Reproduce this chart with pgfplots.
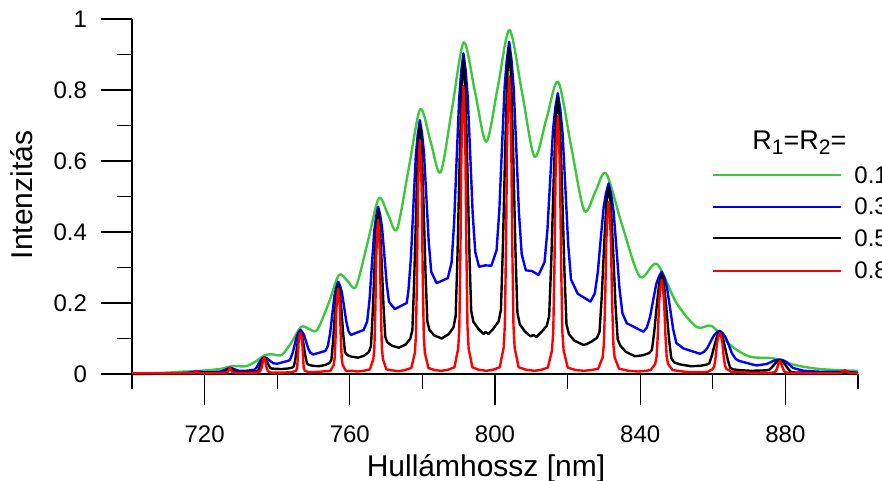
\documentclass[border=0pt]{standalone}
\usepackage{fontspec}
\setmainfont{Liberation Sans}
\usepackage{pgfplots}
\pgfplotsset{compat=1.18}
\definecolor{cgreen}{RGB}{60,200,60}
\begin{document}
\begin{tikzpicture}
\begin{axis}[
  at={(0,0)}, anchor=south west,
  scale only axis, width=363pt, height=177.5pt,
  xmin=700, xmax=900, ymin=0, ymax=1,
  axis x line*=bottom, axis y line*=left,
  axis line style={-, line width=0.6pt},
  xtick={720,760,800,840,880}, minor xtick={700,740,780,820,860,900},
  ytick={0,0.2,0.4,0.6,0.8,1}, minor ytick={0.1,0.3,0.5,0.7,0.9},
  tick align=outside, major tick length=15.5pt, minor tick length=7.7pt,
  every tick/.style={black, line width=0.6pt},
  tick label style={font=\fontsize{12}{14}\selectfont},
  xticklabel style={yshift=-7pt},
  yticklabel style={xshift=-3.5pt},
  /pgf/number format/assume math mode=true,
  xlabel={Hullámhossz [nm]},
  xlabel style={font=\fontsize{15}{18}\selectfont, at={(axis description cs:0.4876,-0.2893)}, anchor=base, inner sep=0pt},
  ylabel={Intenzitás},
  ylabel style={font=\fontsize{15}{18}\selectfont, at={(axis description cs:-0.1364,0.504)}, anchor=base, inner sep=0pt},
  clip=false,
  every axis plot/.append style={line width=1.2pt, line join=round},
]
% green R=0.1
\addplot[cgreen, smooth, tension=0.5] coordinates {
(700,0.001)(705,0.002)(710,0.004)(715,0.007)(717.8,0.008)(722.4,0.012)(724.7,0.015)(727,0.021)(729.2,0.022)(731.5,0.022)(734,0.035)(736.8,0.054)(739,0.055)(741.3,0.054)(744,0.09)(746.6,0.133)(748.8,0.127)(751.0,0.124)(754.2,0.2)(757.0,0.279)(759.4,0.262)(761.7,0.246)(764.9,0.37)(768.0,0.495)(770.5,0.45)(773.0,0.408)(776.2,0.577)(779.4,0.746)(782.2,0.657)(785.0,0.568)(788.2,0.75)(791.4,0.934)(794.5,0.794)(797.6,0.654)(800.8,0.81)(804.0,0.969)(807.5,0.79)(810.9,0.612)(814.2,0.72)(817.4,0.823)(821,0.64)(824.6,0.46)(827.7,0.515)(830.6,0.565)(835,0.42)(839.9,0.274)(844.6,0.31)(850,0.2)(855.6,0.132)(859.7,0.135)(865,0.08)(870.2,0.049)(876.7,0.044)(882,0.027)(887.7,0.016)(894,0.011)(900,0.009)
};
% blue R=0.3
\addplot[blue] coordinates {
(700,0.0)(712,0.002)(716,0.004)(717.8,0.008)(720,0.005)(722.4,0.005)(724.5,0.007)(726,0.013)(727,0.018)(728,0.014)(729.5,0.009)(731.5,0.009)
(733.81,0.012)(734.37,0.019)(734.9,0.029)(735.47,0.039)(735.91,0.044)(736.4,0.047)(736.89,0.046)(737.33,0.043)(737.9,0.038)(738.43,0.034)(738.99,0.030)
(740.0,0.029)(743.3,0.038)
(743.68,0.044)(744.27,0.060)(744.83,0.083)(745.42,0.107)(745.89,0.117)(746.4,0.124)(746.91,0.118)(747.38,0.110)(747.97,0.091)(748.53,0.072)(749.12,0.060)
(749.9,0.055)(753.3,0.065)
(753.95,0.079)(754.57,0.114)(755.15,0.166)(755.78,0.221)(756.27,0.244)(756.8,0.26)(757.33,0.248)(757.82,0.23)(758.45,0.188)(759.03,0.148)(759.65,0.12)
(760.3,0.11)(763.8,0.124)
(764.79,0.148)(765.45,0.211)(766.06,0.304)(766.72,0.402)(767.24,0.443)(767.8,0.471)(768.36,0.448)(768.88,0.413)(769.54,0.333)(770.15,0.255)(770.81,0.203)
(772.4,0.183)(775.7,0.200)
(776.16,0.236)(776.85,0.329)(777.49,0.468)(778.17,0.612)(778.71,0.674)(779.3,0.715)(779.89,0.678)(780.43,0.623)(781.11,0.495)(781.75,0.371)(782.44,0.288)
(783.9,0.256)(787.0,0.27)
(788.04,0.314)(788.75,0.428)(789.41,0.599)(790.13,0.776)(790.69,0.852)(791.3,0.903)(791.91,0.855)(792.47,0.783)(793.19,0.615)(793.85,0.452)(794.56,0.344)
(795.6,0.302)(797.3,0.306)(799.0,0.305)
(800.44,0.349)(801.2,0.463)(801.9,0.633)(802.66,0.81)(803.25,0.885)(803.9,0.936)(804.55,0.884)(805.14,0.807)(805.9,0.627)(806.6,0.453)(807.36,0.337)
(808.5,0.292)(810.2,0.290)(812.0,0.279)
(813.65,0.315)(814.45,0.407)(815.19,0.545)(815.99,0.689)(816.62,0.75)(817.3,0.791)(817.98,0.746)(818.61,0.678)(819.41,0.520)(820.15,0.367)(820.95,0.266)
(822.8,0.226)(826.3,0.204)
(827.49,0.227)(828.32,0.287)(829.1,0.377)(829.93,0.47)(830.59,0.51)(831.3,0.537)(832.01,0.505)(832.67,0.458)(833.5,0.348)(834.28,0.242)(835.11,0.171)
(836.3,0.143)(840.9,0.119)
(841.84,0.131)(842.72,0.161)(843.55,0.207)(844.44,0.254)(845.14,0.274)(845.9,0.288)(846.66,0.271)(847.36,0.245)(848.25,0.184)(849.08,0.126)(849.96,0.087)
(851.9,0.072)(856.5,0.057)
(857.55,0.062)(858.5,0.073)(859.38,0.091)(860.34,0.109)(861.08,0.117)(861.9,0.122)(862.72,0.115)(863.46,0.105)(864.42,0.081)(865.3,0.058)(866.25,0.043)
(867.2,0.037)(872.0,0.024)
(874.9,0.0283)(875.84,0.0328)(876.84,0.0376)(877.64,0.0396)(878.5,0.041)(879.36,0.0384)(880.16,0.0346)(881.16,0.0256)(882.1,0.017)
(885,0.009)(890,0.006)(895,0.006)(896.4,0.008)(898,0.005)(900,0.004)
};
% black R=0.5
\addplot[black] coordinates {
(700,0.0)(710,0.001)(715,0.002)(716.5,0.002)(717.4,0.004)(717.8,0.006)(718.3,0.004)(719.5,0.003)(722.4,0.003)
(723.9,0.003)(724.9,0.0035)(725.36,0.004)(725.75,0.007)(726.22,0.0115)(726.61,0.0147)(727.0,0.016)(727.39,0.0145)(727.78,0.011)(728.25,0.007)(728.64,0.0045)(729.1,0.0045)(730.1,0.005)(731.7,0.005)
(733.16,0.0056)(734.21,0.0066)(734.7,0.0083)(735.1,0.0173)(735.59,0.0317)(735.99,0.042)(736.4,0.046)(736.81,0.0428)(737.21,0.0348)(737.7,0.0236)(738.1,0.0166)(738.59,0.0153)(739.64,0.0145)(741.4,0.014)
(743.0,0.0156)(744.1,0.018)(744.61,0.022)(745.04,0.045)(745.55,0.082)(745.97,0.108)(746.4,0.118)(746.83,0.108)(747.25,0.084)(747.76,0.051)(748.19,0.030)(748.7,0.026)(749.8,0.023)(751.6,0.022)
(753.24,0.0255)(754.4,0.031)(754.93,0.040)(755.38,0.091)(755.91,0.172)(756.35,0.229)(756.8,0.252)(757.25,0.231)(757.69,0.180)(758.22,0.108)(758.67,0.062)(759.2,0.054)(760.36,0.049)(762.3,0.046)
(764.04,0.052)(765.26,0.062)(765.83,0.079)(766.3,0.170)(766.86,0.314)(767.33,0.417)(767.8,0.458)(768.27,0.420)(768.74,0.324)(769.3,0.189)(769.77,0.105)(770.34,0.089)(771.56,0.080)(773.5,0.074)
(775.38,0.083)(776.65,0.099)(777.24,0.124)(777.73,0.262)(778.32,0.481)(778.81,0.637)(779.3,0.70)(779.79,0.64)(780.28,0.49)(780.87,0.28)(781.36,0.148)(781.95,0.124)(783.22,0.109)(785.3,0.100)
(787.22,0.112)(788.55,0.131)(789.16,0.163)(789.67,0.336)(790.28,0.610)(790.79,0.807)(791.3,0.885)(791.81,0.808)(792.32,0.616)(792.93,0.347)(793.44,0.178)(794.05,0.147)(795.38,0.128)
(796.8,0.113)(797.4,0.118)(798.2,0.113)
(799.58,0.128)(800.98,0.148)(801.63,0.180)(802.17,0.357)(802.82,0.637)(803.36,0.838)(803.9,0.918)(804.44,0.837)(804.98,0.635)(805.63,0.351)(806.17,0.173)(806.82,0.140)(808.22,0.120)
(809.8,0.106)(810.6,0.110)(811.4,0.104)
(812.74,0.118)(814.22,0.135)(814.91,0.162)(815.48,0.310)(816.16,0.545)(816.73,0.713)(817.3,0.78)(817.87,0.710)(818.44,0.536)(819.12,0.293)(819.69,0.140)(820.38,0.112)(821.86,0.094)
(823.5,0.086)(824.3,0.082)(825.2,0.084)
(826.54,0.091)(828.09,0.102)(828.8,0.119)(829.4,0.217)(830.11,0.372)(830.7,0.483)(831.3,0.527)(831.9,0.479)(832.49,0.360)(833.2,0.193)(833.8,0.098)(834.51,0.080)(836.06,0.062)(838.6,0.050)
(840.82,0.053)(842.47,0.059)(843.23,0.068)(843.87,0.119)(844.63,0.2)(845.26,0.257)(845.9,0.28)(846.54,0.254)(847.17,0.190)(847.93,0.100)(848.57,0.044)(849.33,0.033)(850.98,0.027)(853.9,0.022)
(856.46,0.023)(858.23,0.026)(859.04,0.030)(859.72,0.051)(860.54,0.084)(861.22,0.108)(861.9,0.118)(862.58,0.107)(863.26,0.080)(864.08,0.042)(864.76,0.018)(865.57,0.013)(867.34,0.011)(870.5,0.009)
(874.6,0.0102)(875.5,0.0114)(876.2,0.018)(877.06,0.0285)(877.78,0.036)(878.5,0.039)(879.22,0.0354)(879.94,0.0264)(880.8,0.0138)(881.5,0.0059)(882.4,0.0044)(887.5,0.003)
(894.5,0.003)(895.6,0.005)(896.4,0.008)(897.2,0.005)(898.5,0.002)(900,0.002)
};
% red R=0.8
\addplot[red] coordinates {
(700,0.002)(708,0.002)(714,0.002)
(716.5,0.002)(717.4,0.005)(717.8,0.009)(718.2,0.005)(719.1,0.002)(722.4,0.002)
(725.3,0.003)(726.3,0.005)(726.7,0.012)(727.0,0.018)(727.3,0.012)(727.7,0.005)(728.8,0.003)(731.6,0.003)
(734.5,0.004)(735.3,0.007)(735.8,0.02)(736.1,0.038)(736.4,0.047)(736.7,0.038)(737.0,0.02)(737.5,0.007)(738.4,0.004)(741.4,0.004)
(744.0,0.005)(744.9,0.008)(745.2,0.009)(745.5,0.018)(745.7,0.05)(745.9,0.09)(746.1,0.107)(746.4,0.117)(746.7,0.107)(746.9,0.09)(747.1,0.05)(747.3,0.018)(747.6,0.009)(747.9,0.008)(748.8,0.005)(751.5,0.006)
(754.66,0.009)(755.2,0.019)(755.55,0.025)(755.82,0.043)(756.09,0.104)(756.31,0.183)(756.53,0.219)(756.8,0.241)(757.07,0.219)(757.29,0.183)(757.51,0.104)(757.78,0.043)(758.05,0.025)(758.4,0.019)(758.94,0.009)
(760.5,0.009)(762.2,0.007)(763.8,0.009)
(765.54,0.013)(766.11,0.031)(766.48,0.042)(766.77,0.074)(767.05,0.187)(767.28,0.33)(767.52,0.395)(767.8,0.434)(768.08,0.395)(768.32,0.33)(768.55,0.187)(768.83,0.074)(769.12,0.042)(769.49,0.031)(770.06,0.013)
(771.8,0.010)(773.5,0.008)(775.2,0.011)
(776.95,0.017)(777.54,0.043)(777.93,0.06)(778.22,0.109)(778.52,0.283)(778.76,0.50)(779.01,0.60)(779.3,0.659)(779.59,0.60)(779.84,0.50)(780.08,0.283)(780.38,0.109)(780.67,0.06)(781.06,0.043)(781.65,0.017)
(783.4,0.011)(785.3,0.009)(787.1,0.012)
(788.85,0.019)(789.46,0.052)(789.87,0.072)(790.18,0.133)(790.48,0.349)(790.74,0.616)(790.99,0.738)(791.3,0.811)(791.61,0.738)(791.86,0.616)(792.12,0.349)(792.42,0.133)(792.73,0.072)(793.14,0.052)(793.75,0.019)
(795.5,0.012)(797.6,0.009)(799.5,0.012)
(801.31,0.019)(801.96,0.053)(802.39,0.074)(802.71,0.137)(803.04,0.361)(803.31,0.638)(803.58,0.763)(803.9,0.839)(804.22,0.763)(804.49,0.638)(804.76,0.361)(805.09,0.137)(805.41,0.074)(805.84,0.053)(806.49,0.019)
(808.6,0.012)(810.9,0.009)(812.8,0.012)
(814.56,0.018)(815.25,0.047)(815.7,0.066)(816.05,0.12)(816.39,0.313)(816.67,0.553)(816.96,0.662)(817.3,0.727)(817.64,0.662)(817.93,0.553)(818.21,0.313)(818.55,0.12)(818.9,0.066)(819.35,0.047)(820.04,0.018)
(822.3,0.011)(824.5,0.009)(826.5,0.011)
(828.44,0.015)(829.16,0.034)(829.63,0.046)(829.99,0.083)(830.35,0.209)(830.65,0.369)(830.94,0.441)(831.3,0.485)(831.66,0.441)(831.95,0.369)(832.25,0.209)(832.61,0.083)(832.97,0.046)(833.44,0.034)(834.16,0.015)
(836.8,0.009)(839.5,0.007)(841.5,0.009)
(842.85,0.011)(843.61,0.021)(844.12,0.028)(844.5,0.048)(844.88,0.114)(845.2,0.201)(845.52,0.241)(845.9,0.265)(846.28,0.241)(846.6,0.201)(846.92,0.114)(847.3,0.048)(847.68,0.028)(848.19,0.021)(848.95,0.011)
(852.5,0.006)(855.5,0.005)
(858.64,0.006)(859.45,0.011)(860.0,0.014)(860.4,0.022)(860.81,0.049)(861.15,0.087)(861.49,0.105)(861.9,0.115)(862.31,0.105)(862.65,0.087)(862.99,0.049)(863.4,0.022)(863.8,0.014)(864.35,0.011)(865.16,0.006)
(871.5,0.003)
(875.9,0.003)(876.9,0.005)(877.35,0.008)(877.71,0.016)(878.07,0.028)(878.5,0.037)(878.93,0.028)(879.29,0.016)(879.65,0.008)(880.1,0.005)(881.1,0.003)
(888,0.002)(894.5,0.002)(895.5,0.004)(896.0,0.008)(896.4,0.011)(896.8,0.008)(897.3,0.004)(898.3,0.002)(900,0.002)
};
\end{axis}
% legend
\node[anchor=base west, inner sep=0pt, font=\fontsize{13.5}{16}\selectfont] at (310pt,112.35pt)
  {R\raisebox{-2.85pt}{\fontsize{10.5}{12}\selectfont 1}=R\raisebox{-2.85pt}{\fontsize{10.5}{12}\selectfont 2}=};
\draw[cgreen, line width=1pt] (290.65pt,99.5pt) -- (354.5pt,99.5pt);
\draw[blue, line width=1pt] (290.65pt,83.65pt) -- (354.5pt,83.65pt);
\draw[black, line width=1pt] (290.65pt,67.85pt) -- (354.5pt,67.85pt);
\draw[red, line width=1pt] (290.65pt,51.65pt) -- (354.5pt,51.65pt);
\node[anchor=west, inner sep=0pt, font=\fontsize{12}{14}\selectfont] at (361pt,99.5pt) {0.1};
\node[anchor=west, inner sep=0pt, font=\fontsize{12}{14}\selectfont] at (361pt,83.65pt) {0.3};
\node[anchor=west, inner sep=0pt, font=\fontsize{12}{14}\selectfont] at (361pt,67.85pt) {0.5};
\node[anchor=west, inner sep=0pt, font=\fontsize{12}{14}\selectfont] at (361pt,51.65pt) {0.8};
\pgfresetboundingbox
\path[use as bounding box] (-66pt,-53.5pt) rectangle (375pt,187pt);
\end{tikzpicture}
\end{document}
